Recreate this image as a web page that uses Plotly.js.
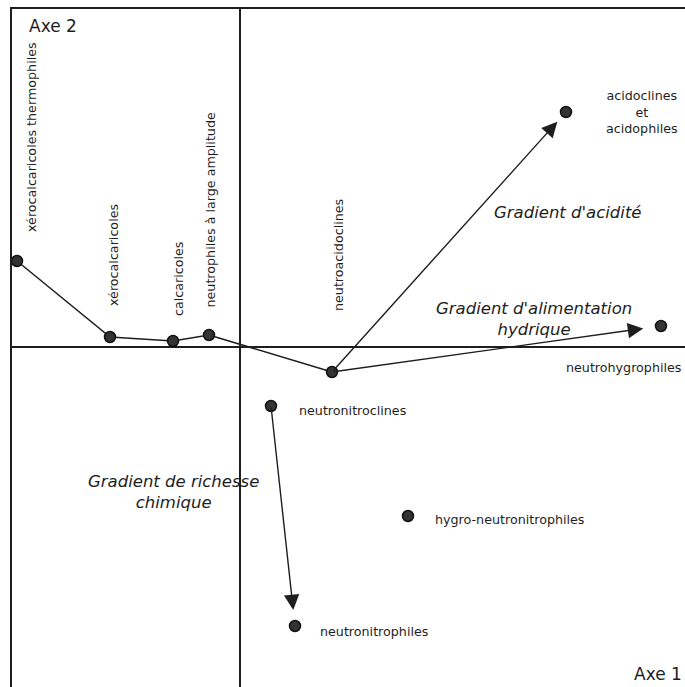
<!DOCTYPE html>
<html>
<head>
<meta charset="utf-8">
<script src="https://cdn.plot.ly/plotly-3.0.1.min.js"></script>
<style>
  html, body { margin: 0; padding: 0; background: #fff; }
  #chart { width: 685px; height: 687px; }
</style>
</head>
<body>
<div id="chart"></div>
<script>
// groupes écologiques, coordonnées sur les axes 1 et 2
const groups = [
    'xérocalcaricoles thermophiles',
    'xérocalcaricoles',
    'calcaricoles',
    'neutrophiles à large amplitude',
    'neutroacidoclines',
    'acidoclines<br>et<br>acidophiles',
    'neutrohygrophiles',
    'neutronitroclines',
    'hygro-neutronitrophiles',
    'neutronitrophiles',
]
const axe1 = [-2.23, -1.30, -0.67, -0.31, 0.92, 3.26, 4.21, 0.31, 1.68, 0.55]
const axe2 = [0.86, 0.10, 0.06, 0.12, -0.25, 2.35, 0.21, -0.59, -1.69, -2.79]

// the first five groups are joined by a line
const chainLength = 5

// gradients: from group -> to group
const gradientFrom = [4, 4, 7]
const gradientTo = [5, 6, 9]
const gradientNames = [
    "Gradient d'acidité",
    "Gradient d'alimentation<br>hydrique",
    'Gradient de richesse<br>chimique',
]

const font = 'DejaVu Sans, Verdana, sans-serif'
const ink = '#1e1e1e'

// label placement (px offsets from the point)
const labelStyle = [
    { textangle: -90, xshift: 14, yshift: 27, xanchor: 'center', yanchor: 'bottom' },
    { textangle: -90, xshift: 3, yshift: 29, xanchor: 'center', yanchor: 'bottom' },
    { textangle: -90, xshift: 5, yshift: 23, xanchor: 'center', yanchor: 'bottom' },
    { textangle: -90, xshift: 1, yshift: 25, xanchor: 'center', yanchor: 'bottom' },
    { textangle: -90, xshift: 6, yshift: 59, xanchor: 'center', yanchor: 'bottom' },
    { xshift: 76, yshift: 0, xanchor: 'center', yanchor: 'middle' },
    { xshift: 22, yshift: -41, xanchor: 'right', yanchor: 'middle' },
    { xshift: 26, yshift: -4, xanchor: 'left', yanchor: 'middle' },
    { xshift: 25, yshift: -3, xanchor: 'left', yanchor: 'middle' },
    { xshift: 23, yshift: -5, xanchor: 'left', yanchor: 'middle' },
]

// where the gradient names sit (px offsets from the arrow middle)
const gradientLabelStyle = [
    { xshift: 119, yshift: 30 },
    { xshift: 37, yshift: 30 },
    { xshift: -110, yshift: 24 },
]
const arrowStandoff = [13, 18, 16]

let trace0 = {
    type: 'scatter',
    mode: 'lines',
    x: axe1.slice(0, chainLength),
    y: axe2.slice(0, chainLength),
    line: { color: ink, width: 1.5 },
    hoverinfo: 'skip',
    cliponaxis: false,
}

let trace1 = {
    type: 'scatter',
    mode: 'markers',
    x: axe1,
    y: axe2,
    text: groups,
    marker: {
        size: 11,
        color: '#333',
        line: { color: '#111', width: 1.5 },
    },
    cliponaxis: false,
    hovertemplate: '%{text}<br>Axe 1 = %{x}<br>Axe 2 = %{y}<extra></extra>',
}

let annotations = []

groups.forEach((g, i) => {
    annotations.push({
        x: axe1[i], y: axe2[i], xref: 'x', yref: 'y',
        text: g,
        showarrow: false,
        align: 'center',
        font: { family: font, size: 12.7, color: ink },
        ...labelStyle[i],
    })
})

gradientFrom.forEach((from, k) => {
    const to = gradientTo[k]
    annotations.push({
        x: axe1[to], y: axe2[to], xref: 'x', yref: 'y',
        ax: axe1[from], ay: axe2[from], axref: 'x', ayref: 'y',
        text: '',
        showarrow: true,
        arrowhead: 2,
        arrowsize: 2.2,
        arrowwidth: 1.4,
        arrowcolor: ink,
        standoff: arrowStandoff[k],
    })
    annotations.push({
        x: (axe1[from] + axe1[to]) / 2, y: (axe2[from] + axe2[to]) / 2,
        xref: 'x', yref: 'y',
        text: gradientNames[k],
        showarrow: false,
        align: 'center',
        font: { family: font, size: 16.5, color: ink, style: 'italic' },
        ...gradientLabelStyle[k],
    })
})

annotations.push({
    xref: 'paper', yref: 'paper', x: 0.023, y: 0.993,
    xanchor: 'left', yanchor: 'top',
    text: 'Axe 2', showarrow: false,
    font: { family: font, size: 17, color: ink },
})
annotations.push({
    xref: 'paper', yref: 'paper', x: 0.998, y: 0.002,
    xanchor: 'right', yanchor: 'bottom',
    text: 'Axe 1', showarrow: false,
    font: { family: font, size: 17, color: ink },
})

const layout = {
    width: 685,
    height: 687,
    margin: { l: 12, r: 0, t: 9, b: 0 },
    paper_bgcolor: '#fff',
    plot_bgcolor: '#fff',
    showlegend: false,
    xaxis: {
        range: [-2.28, 4.45],
        side: 'top',
        showline: true, linecolor: ink, linewidth: 1.6,
        showgrid: false, showticklabels: false, ticks: '',
        zeroline: true, zerolinecolor: ink, zerolinewidth: 1.5,
        fixedrange: true,
    },
    yaxis: {
        range: [-3.40, 3.38],
        showline: true, linecolor: ink, linewidth: 1.6,
        showgrid: false, showticklabels: false, ticks: '',
        zeroline: true, zerolinecolor: ink, zerolinewidth: 1.5,
        fixedrange: true,
    },
    annotations: annotations,
}

Plotly.newPlot('chart', [trace0, trace1], layout, { displayModeBar: false, staticPlot: true })
</script>
</body>
</html>
